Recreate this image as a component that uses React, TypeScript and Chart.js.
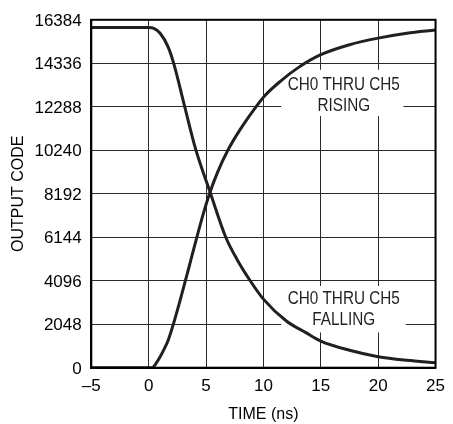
import React, { useEffect, useRef } from "react";
import { Chart, registerables } from "chart.js";

Chart.register(...registerables);

// ---- data ----
const risingTime = [-5, 0, 0.3, 0.6, 1.0, 1.4, 1.7, 2.15, 2.68, 3.2, 3.7, 4.2, 4.72, 5.3, 6.0, 6.9, 7.95, 9.35, 10.1, 11.5, 13.0, 15, 17.5, 20, 22.5, 25];
const risingCode = [0, 0, 0, 170, 512, 930, 1290, 2048, 3050, 4096, 5120, 6144, 7170, 8192, 9200, 10240, 11200, 12288, 12800, 13500, 14120, 14740, 15210, 15520, 15750, 15900];

const fallingTime = [-5, 0, 0.4, 1.0, 1.7, 2.2, 3.15, 4.1, 5.4, 6.72, 7.7, 8.85, 10, 12, 13.7, 15, 17.5, 20, 22.5, 25];
const fallingCode = [16020, 16020, 15990, 15750, 15100, 14300, 12270, 10280, 8192, 6144, 5100, 4096, 3230, 2200, 1650, 1250, 820, 520, 350, 235];

const xTicks = [-5, 0, 5, 10, 15, 20, 25];
const yTicks = [0, 2048, 4096, 6144, 8192, 10240, 12288, 14336, 16384];

const risingLabel = ["CH0 THRU CH5", "RISING"];
const fallingLabel = ["CH0 THRU CH5", "FALLING"];

const INK = "#231f20";
const FONT = "'Liberation Sans', Arial, sans-serif";

const labelPlugin = {
  id: "curveLabels",
  beforeDatasetsDraw(chart: any) {
    const { ctx, scales } = chart;
    const x = scales.x;
    const y = scales.y;
    const boxes = [
      { lines: risingLabel, cx: 17, cy: 12830, x0: 11.55, x1: 22.2, y0: 14030, y1: 11850 },
      { lines: fallingLabel, cx: 17, cy: 2730, x0: 11.55, x1: 22.4, y0: 3850, y1: 1660 },
    ];
    ctx.save();
    for (const b of boxes) {
      const px0 = x.getPixelForValue(b.x0);
      const px1 = x.getPixelForValue(b.x1);
      const py0 = y.getPixelForValue(b.y0);
      const py1 = y.getPixelForValue(b.y1);
      ctx.fillStyle = "#ffffff";
      ctx.fillRect(px0, py0, px1 - px0, py1 - py0);
      const cx = x.getPixelForValue(b.cx);
      const cy = y.getPixelForValue(b.cy);
      const lh = 21;
      ctx.fillStyle = INK;
      ctx.font = `18px ${FONT}`;
      ctx.textAlign = "center";
      ctx.textBaseline = "middle";
      b.lines.forEach((t, i) => {
        const ly = cy + (i - (b.lines.length - 1) / 2) * lh;
        ctx.save();
        ctx.translate(cx, ly);
        ctx.scale(0.85, 1);
        ctx.fillText(t, 0, 0);
        ctx.restore();
      });
    }
    ctx.restore();
  },
  afterDatasetsDraw(chart: any) {
    const { ctx, chartArea } = chart;
    ctx.save();
    ctx.strokeStyle = "#000";
    ctx.lineWidth = 2;
    ctx.strokeRect(chartArea.left, chartArea.top, chartArea.right - chartArea.left, chartArea.bottom - chartArea.top);
    ctx.restore();
  },
};

export default function App() {
  const ref = useRef<HTMLCanvasElement | null>(null);

  useEffect(() => {
    if (!ref.current) return;
    const chart = new Chart(ref.current, {
      type: "line",
      data: {
        datasets: [
          {
            data: risingTime.map((t, i) => ({ x: t, y: risingCode[i] })),
            borderColor: INK,
            borderWidth: 3,
            pointRadius: 0,
            cubicInterpolationMode: "monotone",
            fill: false,
          },
          {
            data: fallingTime.map((t, i) => ({ x: t, y: fallingCode[i] })),
            borderColor: INK,
            borderWidth: 3,
            pointRadius: 0,
            cubicInterpolationMode: "monotone",
            fill: false,
          },
        ],
      },
      options: {
        animation: false,
        responsive: false,
        maintainAspectRatio: false,
        layout: { padding: { top: 15.5, right: 11.3, left: 0, bottom: 0 } },
        plugins: { legend: { display: false }, tooltip: { enabled: false } },
        scales: {
          x: {
            type: "linear",
            min: -5,
            max: 25,
            afterBuildTicks: (scale: any) => {
              scale.ticks = xTicks.map((v) => ({ value: v }));
            },
            afterFit: (scale: any) => {
              scale.height = 56.3;
            },
            ticks: {
              color: "#000",
              font: { family: FONT, size: 17 },
              padding: 8,
              maxRotation: 0,
              autoSkip: false,
              callback: (v: any) => (Number(v) < 0 ? "\u2013" + Math.abs(Number(v)) : String(v)),
            },
            grid: { color: "#2a2a2a", lineWidth: 1, drawTicks: false },
            border: { color: "#000", width: 2 },
            title: {
              display: true,
              text: "TIME (ns)",
              color: "#000",
              font: { family: FONT, size: 16 },
              padding: { top: 0, bottom: 0 },
            },
          },
          y: {
            type: "linear",
            min: 0,
            max: 16384,
            afterBuildTicks: (scale: any) => {
              scale.ticks = yTicks.map((v) => ({ value: v }));
            },
            afterFit: (scale: any) => {
              scale.width = 91.3;
            },
            ticks: {
              color: "#000",
              font: { family: FONT, size: 17 },
              padding: 9.6,
              autoSkip: false,
              labelOffset: 1.5,
              callback: (v: any) => String(v),
            },
            grid: { color: "#2a2a2a", lineWidth: 1, drawTicks: false },
            border: { color: "#000", width: 2 },
            title: {
              display: true,
              text: "OUTPUT CODE",
              color: "#000",
              font: { family: FONT, size: 16 },
              padding: { top: 8.5, bottom: 0 },
            },
          },
        },
      },
      plugins: [labelPlugin],
    } as any);
    return () => chart.destroy();
  }, []);

  return (
    <div style={{ position: "fixed", left: 0, top: 0, width: 453, height: 424, background: "#fff" }}>
      <canvas ref={ref} width={453} height={424} style={{ width: 453, height: 424, display: "block" }} />
    </div>
  );
}
